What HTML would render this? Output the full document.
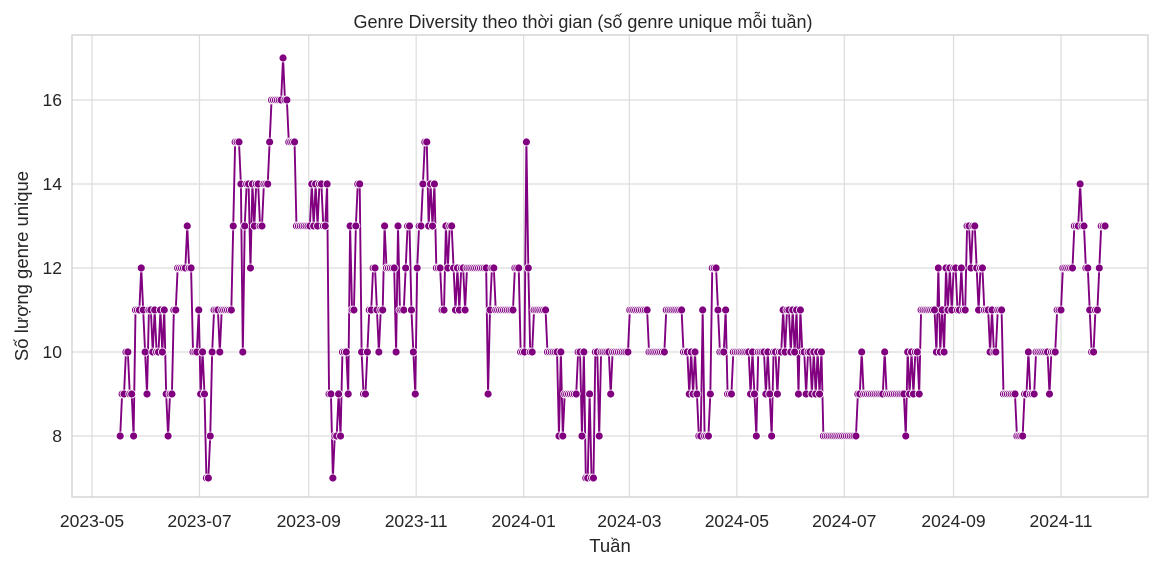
<!DOCTYPE html>
<html><head><meta charset="utf-8">
<style>
html,body{margin:0;padding:0;background:#fff;}
svg{display:block;font-family:"Liberation Sans","DejaVu Sans",sans-serif;}
</style></head>
<body>
<svg id="chart" width="1167" height="564" viewBox="0 0 1167 564">
  <text x="583" y="28" text-anchor="middle" font-size="18" fill="#262626">Genre Diversity theo thời gian (số genre unique mỗi tuần)</text>
  <g id="grid"></g>
  <g id="axes"></g>
  <g id="series"></g>
  <text x="610" y="552" text-anchor="middle" font-size="18.5" fill="#262626">Tuần</text>
  <text transform="translate(28,266) rotate(-90)" text-anchor="middle" font-size="18.5" fill="#262626">Số lượng genre unique</text>
</svg>
<script>
const startDate = "2023-05-17";
const endDate = "2024-11-26";
const values = [
8,9,9,10,10,9,9,8,11,11,11,12,11,10,9,
11,11,10,11,10,10,11,10,11,9,8,9,9,
11,11,12,12,12,12,12,13,12,12,10,10,10,11,9,10,9,7,7,8,
10,11,11,11,10,11,11,11,11,11,11,13,15,15,15,14,10,13,14,14,12,
14,13,14,14,13,13,14,14,14,15,16,16,16,16,16,16,17,16,16,15,15,15,15,13,13,13,13,13,13,13,
13,14,13,14,13,14,14,13,13,14,9,9,7,8,8,9,8,10,10,10,9,
13,11,11,13,14,14,10,9,9,10,11,11,12,12,11,10,11,11,13,
12,12,12,12,12,10,13,11,11,11,12,13,13,11,10,9,12,13,13,14,15,15,
13,14,13,14,12,12,12,11,11,13,12,13,13,12,11,12,11,12,12,11,
12,12,12,12,12,12,12,12,12,12,12,9,11,12,12,11,11,11,11,11,11,11,11,11,11,12,12,12,10,10,10,15,12,10,10,
11,11,11,11,11,11,11,10,10,10,10,10,10,8,10,8,9,9,9,9,9,9,9,10,10,8,10,7,7,9,7,7,10,
10,8,10,10,10,10,10,9,10,10,10,10,10,10,10,10,10,11,11,11,11,11,11,11,11,11,11,
10,10,10,10,10,10,10,10,10,11,11,11,11,11,11,11,11,11,10,10,10,9,10,9,10,9,
8,8,11,8,8,8,9,12,12,12,11,10,10,10,11,9,9,9,10,10,10,10,10,10,10,10,10,
9,10,9,8,10,10,10,10,9,10,9,8,10,10,9,10,10,
11,10,11,11,10,11,10,11,9,11,10,10,9,10,10,9,10,9,10,9,10,
8,8,8,8,8,8,8,8,8,8,8,8,8,8,8,8,8,8,
9,9,10,9,9,9,9,9,9,9,9,9,9,9,10,9,9,9,9,9,9,9,9,9,9,8,
10,9,10,9,10,10,9,11,11,11,11,11,11,11,11,10,12,10,11,10,
12,11,12,11,12,12,11,11,12,11,11,13,13,12,13,13,12,11,12,12,
11,11,11,10,11,10,10,11,11,11,9,9,9,9,9,9,9,8,8,8,8,
9,9,10,9,9,9,10,10,10,10,10,10,10,9,10,10,10,11,11,11,
12,12,12,12,12,12,13,13,13,14,13,13,12,12,11,10,10,11,11,12,13,13,13
];
const yTicks = [8,10,12,14,16];
const xTickLabels = ["2023-05","2023-07","2023-09","2023-11","2024-01","2024-03","2024-05","2024-07","2024-09","2024-11"];

const NS = "http://www.w3.org/2000/svg";
const L = 72, R = 1148, T = 35, B = 497;
const x0Date = Date.parse("2023-05-01T00:00:00Z");
const x1Date = Date.parse("2024-11-01T00:00:00Z");
function xScale(t){ return 92 + (t - x0Date) / (x1Date - x0Date) * (1061 - 92); }
function yScale(v){ return 100 + (16 - v) * 42; }
function mk(tag, attrs, parent){ const e = document.createElementNS(NS, tag); for (const k in attrs) e.setAttribute(k, attrs[k]); parent.appendChild(e); return e; }

const grid = document.getElementById("grid");
const axes = document.getElementById("axes");
const series = document.getElementById("series");

yTicks.forEach(v => {
  const y = yScale(v);
  const gl = mk("line", {x1:L, x2:R, y1:y, y2:y, stroke:"#dcdcdc", "stroke-width":1.2}, grid);
  
  
  const t = mk("text", {x:L-10, y:y+6, "text-anchor":"end", "font-size":"17.5", fill:"#262626"}, axes);
  t.textContent = v;
  
  
});
xTickLabels.forEach(lbl => {
  const x = xScale(Date.parse(lbl + "-01T00:00:00Z"));
  const gl = mk("line", {x1:x, x2:x, y1:T, y2:B, stroke:"#dcdcdc", "stroke-width":1.2}, grid);
  
  
  const t = mk("text", {x:x, y:B+30, "text-anchor":"middle", "font-size":"17.5", fill:"#262626"}, axes);
  t.textContent = lbl;
  
  
});
const frame = mk("rect", {x:L, y:T, width:R-L, height:B-T, fill:"none", stroke:"#cccccc", "stroke-width":1.2}, axes);



const s = Date.parse(startDate + "T00:00:00Z"), e = Date.parse(endDate + "T00:00:00Z");
const n = values.length;
const pts = values.map((v, i) => [xScale(s + (e - s) * i / (n - 1)), yScale(v)]);
const line = mk("polyline", {points: pts.map(p => p[0].toFixed(2) + "," + p[1].toFixed(2)).join(" "), fill:"none", stroke:"#800080", "stroke-width":1.9, "stroke-linejoin":"round"}, series);


pts.forEach(p => {
  const c = mk("circle", {cx:p[0], cy:p[1], r:4, fill:"#800080", stroke:"#fff", "stroke-width":0.8}, series);
  
  
});
</script>
</body></html>
